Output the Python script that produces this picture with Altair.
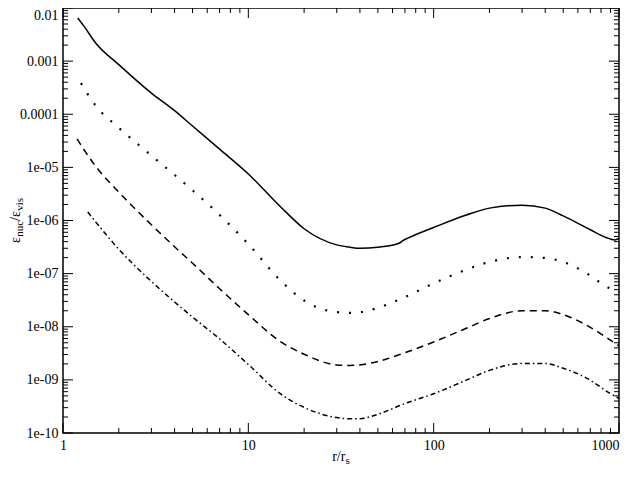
import altair as alt
import pandas as pd

W, H = 556, 425
PAD = {"left": 55, "top": 0, "right": 1, "bottom": 34}
FONT = "Liberation Serif"

# ---- data ----
solid_r = [1.2, 1.3, 1.5, 2, 3, 4, 5, 7, 10, 15, 20, 30, 35, 40, 50, 65, 68.5, 72,
           100, 150, 200, 300, 400, 500, 700, 850, 950, 1000]
solid_eps = [6.5e-3, 4.5e-3, 2.2e-3, 8.6e-4, 2.5e-4, 1.17e-4, 6.0e-5, 2.2e-5, 7.5e-6,
             1.78e-6, 7.0e-7, 3.48e-7, 3.16e-7, 3.0e-7, 3.13e-7, 3.72e-7, 4.22e-7, 4.6e-7,
             7.4e-7, 1.27e-6, 1.71e-6, 1.94e-6, 1.71e-6, 1.22e-6, 6.7e-7, 4.8e-7, 4.3e-7, 4.6e-7]

dot_r = [1.25, 1.5, 2, 3, 4, 5, 7, 10, 15, 20, 30, 35, 40, 50, 70, 100, 150, 200,
         300, 400, 500, 700, 850, 1000]
dot_eps = [3.85e-4, 1.45e-4, 5.57e-5, 1.67e-5, 7.19e-6, 3.7e-6, 1.27e-6, 3.6e-7,
           7.28e-8, 3.12e-8, 1.88e-8, 1.83e-8, 1.88e-8, 2.27e-8, 3.62e-8, 6.55e-8,
           1.19e-7, 1.66e-7, 2.05e-7, 1.97e-7, 1.66e-7, 9.18e-8, 5.77e-8, 4.48e-8]

dash_r = [1.19, 1.5, 2, 3, 4, 5, 7, 10, 15, 20, 30, 35, 40, 50, 70, 100, 150, 200,
          300, 400, 500, 700, 850, 1000]
dash_eps = [3.44e-5, 1.05e-5, 3.43e-6, 8.3e-7, 3.2e-7, 1.57e-7, 5.2e-8, 1.69e-8,
            5.17e-9, 3.04e-9, 1.91e-9, 1.87e-9, 1.91e-9, 2.22e-9, 3.25e-9, 5.17e-9,
            9.35e-9, 1.43e-8, 2.0e-8, 2.0e-8, 1.69e-8, 9.75e-9, 6.38e-9, 4.37e-9]

dd_r = [1.36, 1.5, 2, 3, 4, 5, 7, 10, 15, 20, 30, 35, 40, 50, 70, 100, 150, 200,
        300, 400, 500, 700, 850, 1000]
dd_eps = [1.44e-6, 9.42e-7, 2.88e-7, 7.13e-8, 2.93e-8, 1.52e-8, 5.9e-9, 1.95e-9,
          5.37e-10, 3.03e-10, 1.95e-10, 1.85e-10, 1.86e-10, 2.25e-10, 3.59e-10,
          5.48e-10, 9.9e-10, 1.51e-9, 2.04e-9, 2.04e-9, 1.65e-9, 9.9e-10, 6.22e-10, 4.44e-10]

x_major = [1, 10, 100, 1000]
x_labels = ["1", "10", "100", "1000"]
x_minor = [k * 10 ** e for e in range(0, 3) for k in range(2, 10)]

y_major = [10.0 ** e for e in range(-10, -1)]
y_labels = ["1e-10", "1e-09", "1e-08", "1e-07", "1e-06", "1e-05", "0.0001", "0.001", "0.01"]
y_minor = [k * 10.0 ** e for e in range(-10, -2) for k in range(2, 10)]

# ---- scales & axes ----
xs = alt.Scale(type="log", domain=[1, 1000], nice=False)
ys = alt.Scale(type="log", domain=[1e-10, 1e-2], nice=False)

x_expr = "[" + ",".join(f"'{s}'" for s in x_labels) + "][round(log(datum.value)/LN10)]"
y_expr = "[" + ",".join(f"'{s}'" for s in y_labels) + "][round(log(datum.value)/LN10) + 10]"

x_axis = alt.Axis(values=x_major, labelExpr=x_expr, ticks=False, domain=False, grid=False,
                  title=None, labelFont=FONT, labelFontSize=14, labelColor="black",
                  labelPadding=5, labelOverlap=False,
                  labelAlign={"condition": {"test": "datum.value > 500", "value": "right"},
                              "value": "center"})
y_axis = alt.Axis(values=y_major, labelExpr=y_expr, ticks=False, domain=False, grid=False,
                  title=None, labelFont=FONT, labelFontSize=14, labelColor="black",
                  labelPadding=5, labelOverlap=False,
                  labelBaseline={"condition": {"test": "datum.value > 0.005", "value": "top"},
                                 "value": "middle"})

X = lambda: alt.X("r:Q", scale=xs, axis=x_axis)
Y = lambda: alt.Y("eps:Q", scale=ys, axis=y_axis)


def curve(r, eps, width, dash=None):
    df = pd.DataFrame({"r": r, "eps": eps})
    kw = dict(color="black", strokeWidth=width, clip=True, interpolate="monotone")
    if dash:
        kw["strokeDash"] = dash
    return alt.Chart(df).mark_line(**kw).encode(x=X(), y=Y())


layers = [
    curve(solid_r, solid_eps, 1.5),
    curve(dot_r, dot_eps, 2.2, [2, 10]),
    curve(dash_r, dash_eps, 1.5, [7, 5]),
    curve(dd_r, dd_eps, 1.5, [5, 3, 1.5, 3]),
]


# ---- inward ticks on all four sides ----
def xticks(vals, L):
    df = pd.DataFrame({"r": vals})
    out = []
    for y1, y2 in [(H, H - L), (0, L)]:
        out.append(alt.Chart(df).mark_rule(color="black", strokeWidth=1).encode(
            x=X(), x2=alt.X2("r:Q"), y=alt.value(y1), y2=alt.value(y2)))
    return out


def yticks(vals, L):
    df = pd.DataFrame({"eps": vals})
    out = []
    for x1, x2 in [(0, L), (W, W - L)]:
        out.append(alt.Chart(df).mark_rule(color="black", strokeWidth=1).encode(
            y=Y(), y2=alt.Y2("eps:Q"), x=alt.value(x1), x2=alt.value(x2)))
    return out


layers += xticks(x_major, 10) + xticks(x_minor, 5) + yticks(y_major, 10) + yticks(y_minor, 5)

# ---- axis titles with subscripts ----
one = pd.DataFrame({"a": [0]})


def txt(s, x, y, size, angle=0):
    return alt.Chart(one).mark_text(text=s, font=FONT, fontSize=size, color="black",
                                    align="left", baseline="alphabetic", angle=angle).encode(
        x=alt.value(x), y=alt.value(y))


layers += [txt("r/r", W / 2 - 8.8, H + 28, 14), txt("s", W / 2 + 4.4, H + 31, 11)]

ax, sx = -43, -40
y0 = H / 2 + 22.5
layers += [
    txt("ε", ax, y0, 14, 270),
    txt("nuc", sx, y0 - 6.2, 11, 270),
    txt("/", ax, y0 - 22.1, 14, 270),
    txt("ε", ax, y0 - 26.0, 14, 270),
    txt("vis", sx, y0 - 32.2, 11, 270),
]

chart = alt.layer(*layers).properties(
    width=W, height=H, padding=PAD, autosize=alt.AutoSizeParams(type="none")
).configure_view(stroke="black", strokeWidth=1.5)

chart.save("out.html", embed_options={"renderer": "svg", "actions": False})
